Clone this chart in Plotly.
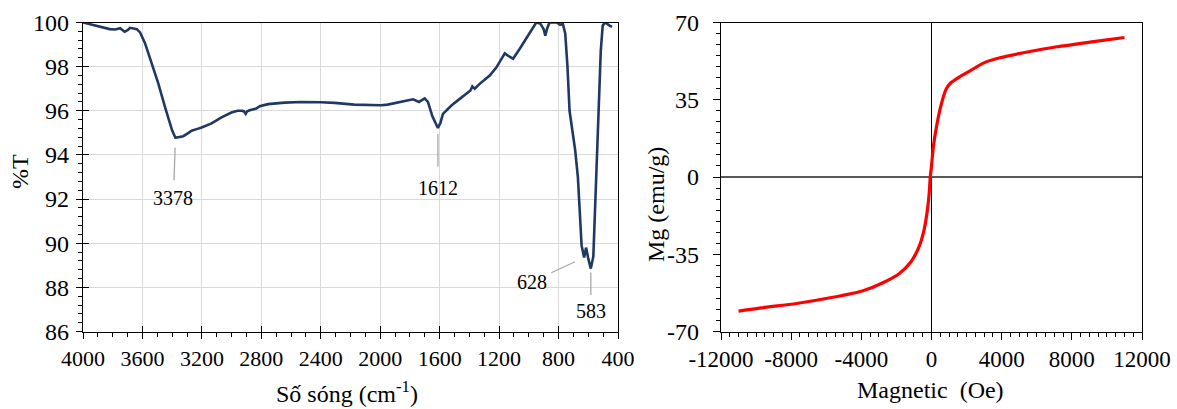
import plotly.graph_objects as go

# ---------------- FT-IR spectrum ----------------
wavenumber = [
    4000, 3950, 3900, 3870, 3820, 3783, 3750, 3720, 3700, 3683, 3650, 3638, 3616,
    3582, 3560, 3537, 3493, 3448, 3420, 3400, 3378, 3350, 3325, 3290, 3269, 3230,
    3202, 3135, 3068, 3001, 2960, 2930, 2916, 2905, 2895, 2878, 2850, 2834, 2811,
    2755, 2644, 2532, 2398, 2308, 2175, 2040, 1995, 1950, 1869, 1779, 1739, 1701,
    1679, 1649, 1612, 1595, 1578, 1521, 1465, 1420, 1393, 1380, 1364, 1331, 1263,
    1218, 1162, 1130, 1106, 1061, 1028, 1000, 967, 950, 923, 901, 889, 878, 861,
    811, 789, 771, 755, 740, 726, 700, 688, 670, 655, 645, 628, 615, 600, 583,
    566, 555, 545, 532, 516, 503, 487, 470, 454, 440,
]
transmittance = [
    100.0, 99.92, 99.84, 99.78, 99.70, 99.68, 99.74, 99.58, 99.65, 99.76, 99.74, 99.70, 99.55,
    99.05, 98.60, 98.13, 97.23, 96.17, 95.50, 95.10, 94.78, 94.80, 94.85, 95.00, 95.10, 95.18,
    95.24, 95.43, 95.70, 95.92, 96.00, 96.00, 95.97, 95.86, 95.98, 96.02, 96.05, 96.10, 96.21,
    96.30, 96.37, 96.40, 96.39, 96.36, 96.28, 96.24, 96.25, 96.28, 96.38, 96.52, 96.40, 96.56,
    96.40, 95.75, 95.22, 95.45, 95.86, 96.24, 96.54, 96.77, 96.92, 97.10, 97.00, 97.22, 97.60,
    97.97, 98.60, 98.45, 98.36, 98.81, 99.18, 99.50, 99.86, 100.0, 99.95, 99.71, 99.40, 99.71, 100.0,
    100.0, 99.90, 99.94, 99.50, 98.00, 96.00, 94.70, 94.20, 93.00, 91.30, 89.90, 89.35, 89.80, 89.30, 88.85,
    89.40, 91.20, 93.00, 95.70, 98.70, 99.86, 100.0, 99.90, 99.85, 99.80,
]

# labelled absorption bands and label offsets (px) from the band minimum
peak_wn = [3378, 1612, 628, 583]
peak_offsets = [(-2, 60), (0, 60), (-52, 24), (0, 42)]
peak_standoff = [(10, 6), (6, 10), (10, 4), (4, 4)]

ir_xticks = [4000, 3600, 3200, 2800, 2400, 2000, 1600, 1200, 800, 400]
ir_yticks = [86, 88, 90, 92, 94, 96, 98, 100]

# ---------------- Magnetization curve ----------------
field_oe = [
    -11000, -9700, -7700, -5700, -3900, -2800, -1850, -1180, -700, -420, -230,
    -130, -70, -20, 110, 290, 530, 820, 1100, 1600, 2200, 2950, 3900, 5170,
    7150, 9130, 11000,
]
magnetization = [
    -60.8, -59.3, -57.3, -54.6, -51.5, -48.0, -43.8, -38.5, -31.4, -23.8, -14.7,
    -7.2, 0.0, 3.4, 14.0, 23.0, 32.1, 39.6, 42.7, 45.4, 48.1, 51.6, 54.0, 56.2,
    59.0, 61.2, 63.2,
]
vsm_xticks = [-12000, -8000, -4000, 0, 4000, 8000, 12000]
vsm_yticks = [-70, -35, 0, 35, 70]

# ---------------- figure ----------------
W, H = 1177, 409
FONT = "Liberation Serif"


def px_x(p):
    return p / W


def px_y(p):
    return 1 - p / H


left_dom = [px_x(83), px_x(618)]
right_dom = [px_x(721), px_x(1142)]
y_dom = [px_y(331.5), px_y(22.5)]

fig = go.Figure()

fig.add_trace(go.Scatter(
    x=wavenumber, y=transmittance, mode="lines",
    line=dict(color="#1F3864", width=2.6), xaxis="x", yaxis="y",
    showlegend=False, hoverinfo="skip",
))
# carrier trace for the inward half of the crossing ticks
fig.add_trace(go.Scatter(x=[None], y=[None], xaxis="x3", yaxis="y3",
                         showlegend=False, hoverinfo="skip"))
fig.add_trace(go.Scatter(
    x=field_oe, y=magnetization, mode="lines",
    line=dict(color="#FF0000", width=3.2, shape="spline", smoothing=0.6),
    xaxis="x2", yaxis="y2", showlegend=False, hoverinfo="skip",
))

tickfont = dict(family=FONT, size=22, color="black")

common = dict(showline=True, linecolor="black", linewidth=1.3, mirror=True,
              ticks="outside", tickcolor="black", tickwidth=1.3,
              zeroline=False, automargin=False)

fig.update_layout(
    width=W, height=H,
    margin=dict(l=0, r=0, t=0, b=0, autoexpand=False),
    font=dict(family=FONT, color="black"),
    paper_bgcolor="white", plot_bgcolor="white",
    xaxis=dict(
        domain=left_dom, anchor="y", range=[4000, 400],
        tickmode="array", tickvals=ir_xticks, ticktext=[str(v) for v in ir_xticks],
        ticklen=6, tickfont=tickfont, ticklabelstandoff=1,
        showgrid=True, gridcolor="#D9D9D9", gridwidth=1.3,
        minor=dict(ticks="outside", ticklen=4, tickcolor="black", tickwidth=1.2,
                   tickmode="linear", tick0=400, dtick=100, showgrid=False),
        **common,
    ),
    yaxis=dict(
        domain=y_dom, anchor="x", range=[86, 100],
        tickmode="array", tickvals=ir_yticks, ticktext=[str(v) for v in ir_yticks],
        ticklen=6, tickfont=dict(family=FONT, size=24, color="black"),
        ticklabelstandoff=2,
        showgrid=True, gridcolor="#D9D9D9", gridwidth=1.3,
        minor=dict(ticks="outside", ticklen=4, tickcolor="black", tickwidth=1.2,
                   tickmode="linear", tick0=86, dtick=0.4, showgrid=False),
        **common,
    ),
    xaxis3=dict(
        overlaying="x", anchor="y3", range=[4000, 400], automargin=False,
        tickmode="array", tickvals=ir_xticks, ticks="inside", ticklen=6,
        tickcolor="black", tickwidth=1.3, showticklabels=False,
        showgrid=False, showline=False, zeroline=False,
    ),
    yaxis3=dict(
        overlaying="y", anchor="x3", range=[86, 100], automargin=False,
        tickmode="array", tickvals=ir_yticks, ticks="inside", ticklen=6,
        tickcolor="black", tickwidth=1.3, showticklabels=False,
        showgrid=False, showline=False, zeroline=False,
    ),
    xaxis2=dict(
        domain=right_dom, anchor="y2", range=[-12000, 12000],
        tickmode="array", tickvals=vsm_xticks, ticktext=[str(v) for v in vsm_xticks],
        ticklen=7, tickfont=dict(family=FONT, size=23, color="black"),
        ticklabelstandoff=0, showgrid=False, automargin=False,
        minor=dict(ticks="outside", ticklen=4, tickcolor="black", tickwidth=1.2,
                   tickmode="linear", tick0=0, dtick=500, showgrid=False),
        showline=True, linecolor="black", linewidth=1.3, mirror=True,
        ticks="outside", tickcolor="black", tickwidth=1.3,
        zeroline=True, zerolinecolor="black", zerolinewidth=1.2,
    ),
    yaxis2=dict(
        domain=y_dom, anchor="x2", range=[-70, 70],
        tickmode="array", tickvals=vsm_yticks, ticktext=[str(v) for v in vsm_yticks],
        ticklen=7, tickfont=dict(family=FONT, size=24, color="black"),
        ticklabelstandoff=9, showgrid=False, automargin=False,
        minor=dict(ticks="outside", ticklen=4, tickcolor="black", tickwidth=1.2,
                   tickmode="linear", tick0=0, dtick=5, showgrid=False),
        showline=True, linecolor="black", linewidth=1.3, mirror=True,
        ticks="outside", tickcolor="black", tickwidth=1.3,
        zeroline=True, zerolinecolor="#595959", zerolinewidth=1.6,
    ),
)

# band labels with leader lines
for wn, (ax, ay), (so, sso) in zip(peak_wn, peak_offsets, peak_standoff):
    t = transmittance[wavenumber.index(wn)]
    fig.add_annotation(
        x=wn, y=t, xref="x", yref="y", text=str(wn),
        showarrow=True, arrowhead=0, arrowwidth=1.3, arrowcolor="#A6A6A6",
        ax=ax, ay=ay, standoff=so, startstandoff=sso, borderpad=0,
        font=dict(family=FONT, size=20, color="black"),
    )

title_font = dict(family=FONT, size=24, color="black")
titles = [
    ("%T", 20, 172, -90),
    ("Số sóng (cm<sup>-1</sup>)", 347, 392, 0),
    ("Mg (emu/g)", 656, 205, -90),
    ("Magnetic\u00a0 (Oe)", 930, 390, 0),
]
for text, x, y, ang in titles:
    fig.add_annotation(
        x=px_x(x), y=px_y(y), xref="paper", yref="paper", text=text,
        showarrow=False, textangle=ang, font=title_font,
        xanchor="center", yanchor="middle",
    )

fig.write_html("out.html")
